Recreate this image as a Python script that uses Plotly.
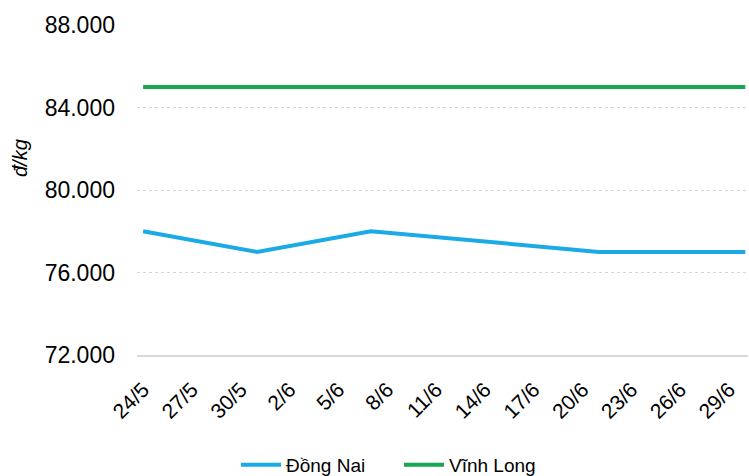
import plotly.graph_objects as go

# Data
dates = ["2024-05-24", "2024-05-31", "2024-06-07", "2024-06-14",
         "2024-06-21", "2024-06-28", "2024-06-30"]
dong_nai = [78000, 77000, 78000, 77500, 77000, 77000, 77000]
vinh_long = [85000, 85000, 85000, 85000, 85000, 85000, 85000]

tick_dates = ["2024-05-24", "2024-05-27", "2024-05-30", "2024-06-02",
              "2024-06-05", "2024-06-08", "2024-06-11", "2024-06-14",
              "2024-06-17", "2024-06-20", "2024-06-23", "2024-06-26",
              "2024-06-29"]
tick_labels = ["24/5", "27/5", "30/5", "2/6", "5/6", "8/6", "11/6",
               "14/6", "17/6", "20/6", "23/6", "26/6", "29/6"]
y_ticks = [72000, 76000, 80000, 84000, 88000]

FONT = "Arial, Liberation Sans, sans-serif"
L, T, W, H = 137, 25, 611, 330

fig = go.Figure()
fig.add_trace(go.Scatter(x=dates, y=dong_nai, name="Đồng Nai", mode="lines",
                         line=dict(color="#1AAAE6", width=4)))
fig.add_trace(go.Scatter(x=dates, y=vinh_long, name="Vĩnh Long", mode="lines",
                         line=dict(color="#17A652", width=4)))

fig.update_layout(
    width=749, height=476,
    margin=dict(l=L, r=749 - L - W, t=T, b=476 - T - H, autoexpand=False),
    paper_bgcolor="white", plot_bgcolor="white",
    separators=",.",
    font=dict(family=FONT, color="#000000"),
    showlegend=True,
    legend=dict(orientation="h", x=(236 - L) / W, xanchor="left",
                y=(T + H - 465) / H, yanchor="middle",
                font=dict(size=19, family=FONT),
                entrywidth=108, entrywidthmode="pixels",
                itemwidth=40, tracegroupgap=0),
    xaxis=dict(type="date", range=["2024-05-23 15:00", "2024-06-30 04:00"],
               tickmode="array", tickvals=tick_dates, ticktext=tick_labels,
               tickangle=-45, tickfont=dict(size=21, family=FONT),
               showgrid=False, showline=True, linecolor="#D9D9D9",
               linewidth=2, ticks="", zeroline=False, automargin=False,
               ticklabelstandoff=12),
    yaxis=dict(range=[72000, 88000], tickvals=y_ticks, tickformat=",.0f",
               tickfont=dict(size=23, family=FONT),
               showgrid=True, gridcolor="#D6D6D6", griddash="dot",
               gridwidth=1, zeroline=False, showline=False, ticks="",
               ticklabelstandoff=21, automargin=False),
    annotations=[dict(text="<i>đ/kg</i>", xref="paper", yref="paper",
                      x=(20 - L) / W, y=(T + H - 158) / H,
                      xanchor="center", yanchor="middle", textangle=-90,
                      showarrow=False, font=dict(size=20, family=FONT))],
)

fig.write_html("out.html",
               config={"displayModeBar": False},
               post_script="document.body.style.margin='0';"
                           "document.body.style.padding='0';")
